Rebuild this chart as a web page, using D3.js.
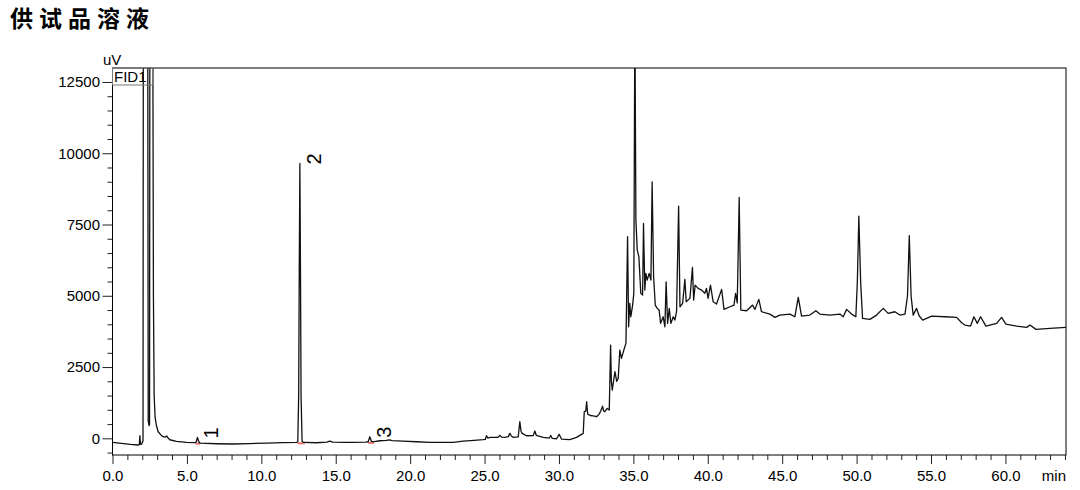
<!DOCTYPE html>
<html>
<head>
<meta charset="utf-8">
<script src="https://cdn.jsdelivr.net/npm/d3@7"></script>
<style>
  body { margin: 0; background: #fff; }
  svg { display: block; font-family: "Liberation Sans", Arial, sans-serif; }
</style>
</head>
<body>
<div id="chart"></div>
<script>
const TITLE = "供试品溶液";
const DETECTOR = "FID1";
const Y_UNIT = "uV";
const X_UNIT = "min";

// retention time (min) / detector signal (uV)
const TIME = [
  0.00, 0.60, 1.20, 1.72, 1.80, 1.84, 1.88, 1.96, 2.02, 2.05, 2.07, 2.37, 2.40, 2.46, 2.49, 2.51, 2.71, 2.75, 2.80, 2.86,
  2.95, 3.07, 3.25, 3.40, 3.55, 3.63, 3.72, 3.85, 4.30, 4.97, 5.55, 5.62, 5.71, 5.80, 5.90, 7.00, 8.10, 9.20, 10.35, 11.50,
  12.37, 12.45, 12.51, 12.55, 12.59, 12.63, 12.67, 12.74, 12.85, 13.70, 14.40, 14.60, 14.80, 15.50, 16.17, 17.00, 17.18, 17.29, 17.40, 17.60,
  17.96, 18.40, 18.60, 18.80, 19.50, 20.43, 21.30, 22.00, 22.90, 23.56, 24.30, 24.90, 25.05, 25.13, 25.22, 25.36, 25.90, 26.03, 26.15, 26.36,
  26.60, 26.70, 26.80, 26.92, 27.26, 27.37, 27.45, 27.53, 27.82, 28.27, 28.38, 28.48, 28.94, 29.35, 29.45, 29.55, 29.84, 30.01, 30.17, 30.73,
  31.18, 31.63, 31.70, 31.80, 31.86, 31.93, 32.10, 32.30, 32.53, 32.70, 32.80, 32.93, 33.00, 33.08, 33.24, 33.38, 33.47, 33.52, 33.58, 33.76,
  33.88, 33.98, 34.09, 34.20, 34.36, 34.50, 34.61, 34.68, 34.76, 34.83, 34.95, 35.03, 35.10, 35.17, 35.26, 35.37, 35.50, 35.62, 35.68, 35.77,
  35.84, 35.93, 36.06, 36.18, 36.26, 36.36, 36.47, 36.60, 36.73, 36.83, 37.00, 37.12, 37.20, 37.30, 37.41, 37.52, 37.68, 37.79, 37.90, 38.04,
  38.13, 38.31, 38.46, 38.55, 38.80, 38.97, 39.05, 39.15, 39.35, 39.58, 39.80, 39.91, 40.02, 40.18, 40.36, 40.59, 40.93, 41.09, 41.49, 41.76,
  41.87, 41.98, 42.11, 42.22, 42.61, 43.01, 43.17, 43.43, 43.61, 44.17, 44.51, 44.84, 45.52, 45.85, 46.08, 46.30, 46.86, 47.26, 47.53, 48.20,
  48.88, 49.10, 49.33, 49.66, 49.95, 50.05, 50.15, 50.27, 50.40, 50.89, 51.34, 51.79, 52.12, 52.57, 52.91, 53.25, 53.42, 53.54, 53.66, 53.80,
  54.03, 54.20, 54.44, 55.04, 55.93, 56.72, 57.06, 57.28, 57.66, 57.88, 58.11, 58.33, 58.69, 59.41, 59.74, 60.03, 60.75, 61.43, 61.65, 62.05,
  62.99, 64.07
];
const SIGNAL = [
  -140, -180, -215, -235, -225, 90, -210, -200, -120, -100, 14000, 14000, 600, 450, 500, 14000, 14000, 5000, 1500, 750,
  450, 230, 120, 56, 40, 85, 20, -50, -105, -140, -150, -130, 30, -120, -170, -190, -200, -185, -165, -150,
  -140, -120, 1500, 6000, 9640, 6000, 1500, -110, -145, -155, -130, -100, -135, -145, -140, -135, -120, 55, -110, -115,
  -85, -75, -55, -80, -100, -120, -140, -145, -140, -95, -70, -49, -40, 91, 10, 35, 35, 105, 40, 35,
  60, 175, 80, 35, 50, 583, 250, 175, 91, 95, 256, 100, 35, 10, 100, -5, -15, 140, -25, -49,
  35, 175, 933, 950, 1283, 850, 800, 790, 757, 850, 950, 1130, 960, 933, 1050, 993, 3271, 2000, 1693, 2336,
  2000, 2103, 3096, 2805, 3096, 3330, 7070, 3913, 4733, 4264, 4674, 5084, 15000, 7654, 6602, 6368, 5084, 5025, 7539, 5200,
  5786, 5550, 5786, 5550, 8997, 5666, 4674, 4558, 4498, 4032, 4264, 3913, 5491, 4032, 4558, 4032, 4264, 4148, 4440, 8146,
  4616, 4733, 5575, 4790, 4909, 5996, 4849, 5375, 5259, 5200, 5084, 5259, 4909, 5375, 4790, 4709, 5224, 4523, 4616, 4674,
  5084, 4750, 8450, 4498, 4475, 4674, 4523, 4874, 4440, 4358, 4242, 4323, 4358, 4264, 4944, 4288, 4323, 4475, 4358, 4323,
  4358, 4264, 4523, 4358, 4264, 5500, 7795, 5500, 4207, 4172, 4323, 4558, 4382, 4440, 4323, 4358, 5000, 7110, 5000, 4323,
  4558, 4300, 4148, 4288, 4264, 4242, 4053, 3973, 3938, 4264, 4032, 4264, 3938, 4032, 4242, 4008, 3938, 3892, 3973, 3822,
  3857, 3892
];

// integrated peaks
const PEAK_IDS = ["1", "2", "3"];
const PEAK_RT = [5.71, 12.59, 17.29];
const PEAK_TOP = [30, 9640, 55];
const PEAK_START = [5.58, 12.43, 17.18];
const PEAK_END = [5.88, 12.92, 17.58];
const PEAK_BASE = [-150, -140, -125];

const X_TICKS = [0, 5, 10, 15, 20, 25, 30, 35, 40, 45, 50, 55, 60];
const Y_TICKS = [0, 2500, 5000, 7500, 10000, 12500];
const X_DOMAIN = [0, 64.07];
const Y_DOMAIN = [-585, 12990];

const WIDTH = 1080, HEIGHT = 490;
const MARGIN = { top: 68, right: 14, bottom: 35, left: 112.5 };
const W = WIDTH - MARGIN.left - MARGIN.right;
const H = HEIGHT - MARGIN.top - MARGIN.bottom;

const svg = d3.select("#chart").append("svg")
  .attr("width", WIDTH)
  .attr("height", HEIGHT);

svg.append("text")
  .attr("x", 10)
  .attr("y", 27)
  .style("font-family", "'Noto Sans CJK SC', sans-serif")
  .style("font-weight", "bold")
  .style("font-size", "23px")
  .style("letter-spacing", "6px")
  .text(TITLE);

const g = svg.append("g")
  .attr("transform", `translate(${MARGIN.left},${MARGIN.top})`);

const x = d3.scaleLinear().domain(X_DOMAIN).range([0, W]);
const y = d3.scaleLinear().domain(Y_DOMAIN).range([H, 0]);

// minor ticks first, majors on top
const xMinor = d3.range(0, 65, 1).filter(d => d % 5 !== 0);
const yMinor = d3.range(-500, 13000, 500).filter(d => d % 2500 !== 0);

g.append("g")
  .attr("transform", `translate(0,${H})`)
  .call(d3.axisBottom(x).tickValues(xMinor).tickSize(5).tickSizeOuter(0).tickFormat(""))
  .call(a => a.select(".domain").remove());
g.append("g")
  .attr("transform", `translate(0,${H})`)
  .call(d3.axisBottom(x).tickValues(X_TICKS).tickSize(9).tickPadding(6).tickSizeOuter(0)
    .tickFormat(d3.format(".1f")))
  .call(a => a.select(".domain").remove())
  .call(a => a.selectAll("text").style("font-size", "15px").attr("fill", "#000"));

g.append("g")
  .call(d3.axisLeft(y).tickValues(yMinor).tickSize(5).tickSizeOuter(0).tickFormat(""))
  .call(a => a.select(".domain").remove());
g.append("g")
  .call(d3.axisLeft(y).tickValues(Y_TICKS).tickSize(10).tickPadding(2.5).tickSizeOuter(0)
    .tickFormat(d3.format("d")))
  .call(a => a.select(".domain").remove())
  .call(a => a.selectAll("text").style("font-size", "15px").attr("fill", "#000"));

g.selectAll(".tick line").attr("stroke", "#222");

g.append("clipPath").attr("id", "plot-clip")
  .append("rect").attr("width", W).attr("height", H);

// integration baselines
g.append("g")
  .selectAll("line")
  .data(PEAK_IDS)
  .join("line")
  .attr("x1", (d, i) => x(PEAK_START[i]))
  .attr("x2", (d, i) => x(PEAK_END[i]))
  .attr("y1", (d, i) => y(PEAK_BASE[i]) + 1)
  .attr("y2", (d, i) => y(PEAK_BASE[i]) + 1)
  .attr("stroke", "#e8706a")
  .attr("stroke-width", 2);

const trace = TIME.map((t, i) => [t, SIGNAL[i]]);
g.append("path")
  .datum(trace)
  .attr("clip-path", "url(#plot-clip)")
  .attr("fill", "none")
  .attr("stroke", "#111")
  .attr("stroke-width", 1.3)
  .attr("stroke-linejoin", "round")
  .attr("d", d3.line().x(d => x(d[0])).y(d => y(d[1])));

// peak numbers, rotated
g.append("g")
  .selectAll("text")
  .data(PEAK_IDS)
  .join("text")
  .attr("transform", (d, i) => `translate(${x(PEAK_RT[i]) + 21},${y(PEAK_TOP[i]) + 1}) rotate(-90)`)
  .style("font-size", "20px")
  .text(d => d);

// frame
g.append("rect")
  .attr("width", W)
  .attr("height", H)
  .attr("fill", "none")
  .attr("stroke", "#000")
  .attr("stroke-width", 1);

// detector tag
g.append("rect")
  .attr("width", 40)
  .attr("height", 17)
  .attr("fill", "none")
  .attr("stroke", "#777");
g.append("text")
  .attr("x", 1.5)
  .attr("y", 14)
  .style("font-size", "15px")
  .text(DETECTOR);

svg.append("text")
  .attr("x", 103)
  .attr("y", 65)
  .style("font-size", "15px")
  .text(Y_UNIT);

svg.append("text")
  .attr("x", MARGIN.left + W)
  .attr("y", HEIGHT - MARGIN.bottom + 25.5)
  .attr("text-anchor", "end")
  .style("font-size", "15px")
  .text(X_UNIT);
</script>
</body>
</html>
